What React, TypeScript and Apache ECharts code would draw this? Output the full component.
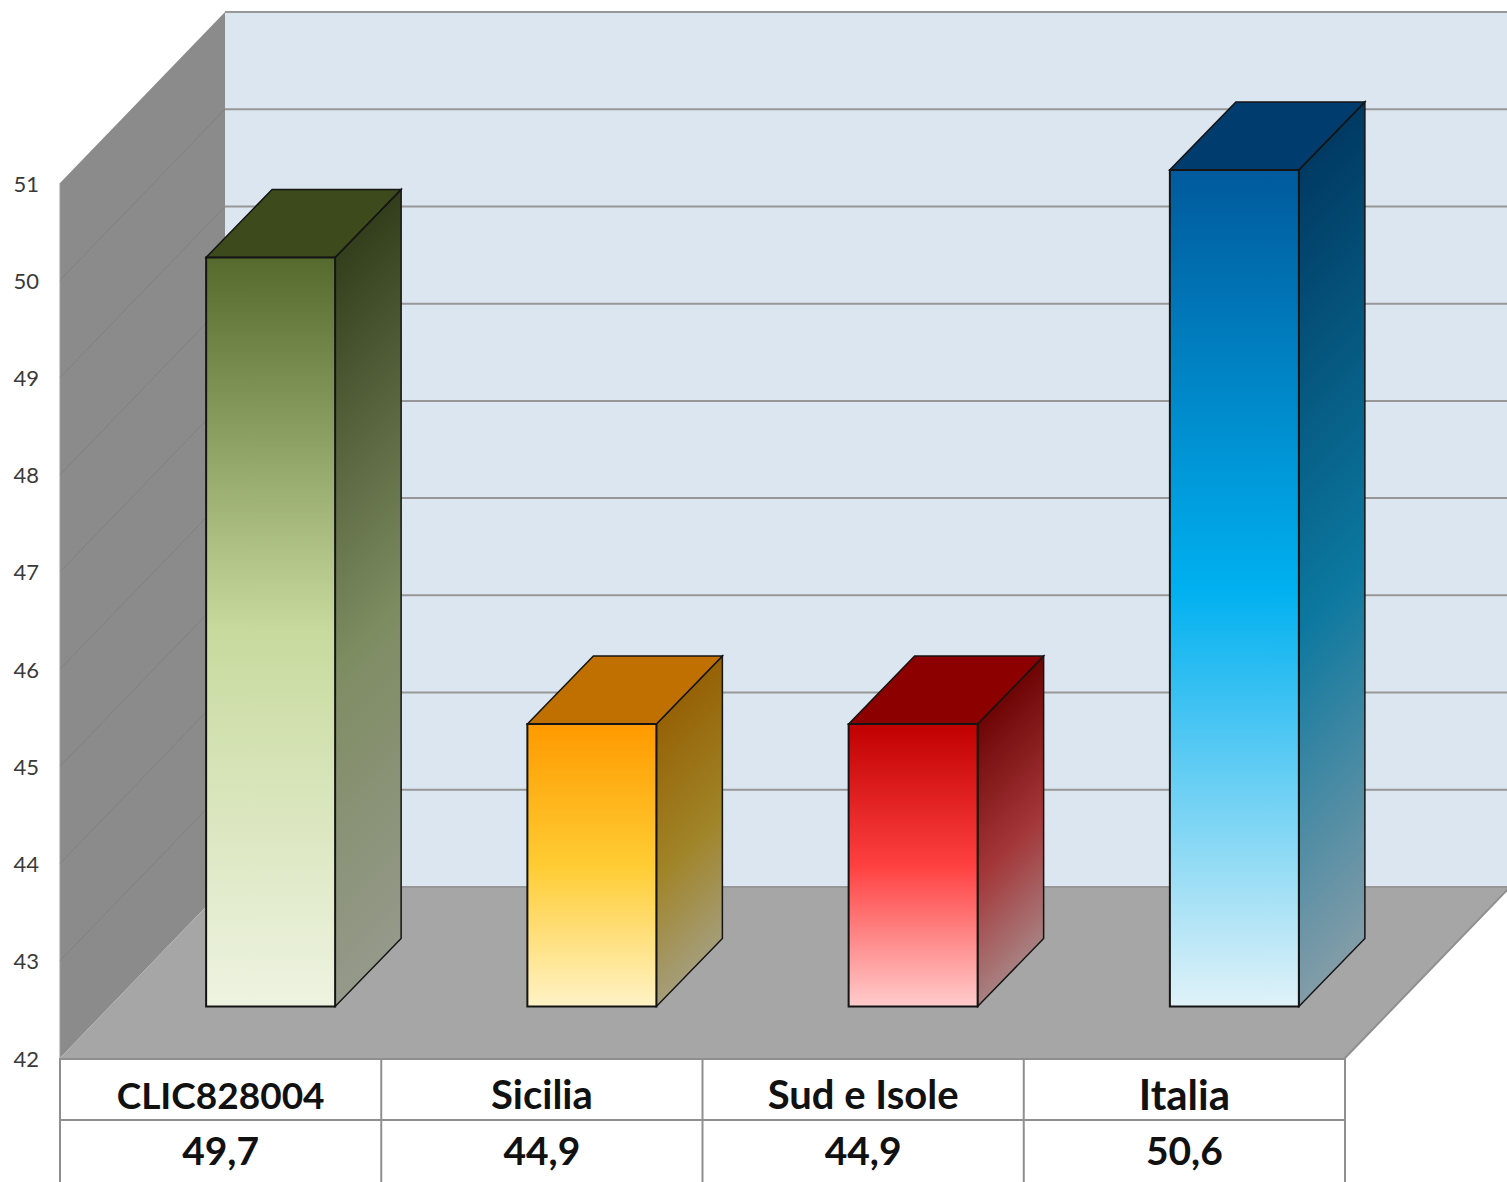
import React, { useEffect, useRef } from "react";
import * as echarts from "echarts";

const categories = ["CLIC828004", "Sicilia", "Sud e Isole", "Italia"];
const values = [49.7, 44.9, 44.9, 50.6];
const valueLabels = ["49,7", "44,9", "44,9", "50,6"];
const yTicks = [42, 43, 44, 45, 46, 47, 48, 49, 50, 51];

const frontColors = [
  ["#566a2e", "#c8da9e", "#eef3e1"],
  ["#ff9a00", "#ffcc33", "#fff3c6"],
  ["#c00000", "#ff4040", "#ffcccc"],
  ["#005a9c", "#00b0f0", "#e0f2f8"],
];
const sideColors = [
  ["#333f1c", "#7e8c62", "#95998a"],
  ["#966206", "#a08428", "#a59d78"],
  ["#6e0505", "#a33638", "#a87f80"],
  ["#003a63", "#0c789f", "#829ca8"],
];
const topColors = ["#3c4a1c", "#c07000", "#8c0000", "#003d6e"];
const categoryStyles = ["c", "d", "d", "e"];

const FONT = "Lato";
const WALL_DX = 165;
const WALL_DY = -171;
const BAR_DX = 66;
const BAR_DY = -68;
const BAR_SHIFT_X = 50;
const BAR_SHIFT_Y = -51.5;
const BAR_HALF = 64.5;
const GRID_LEFT = 60;
const GRID_TOP = 183;
const GRID_W = 1285;
const GRID_H = 875;
const TABLE_BOTTOM = 1182;
const TABLE_ROW = 1120;
const GRID_COLOR = "#979797";

function stops(c: string[], mid = 0.5) {
  return [
    { offset: 0, color: c[0] },
    { offset: mid, color: c[1] },
    { offset: 1, color: c[2] },
  ];
}

function renderBackdrop(_p: any, api: any) {
  const children: any[] = [];
  const y0 = api.coord([0, yTicks[0]])[1];
  const yT = api.coord([0, yTicks[yTicks.length - 1]])[1];
  const xL = GRID_LEFT;
  const xR = GRID_LEFT + GRID_W;
  const poly = (points: number[][], fill: any) => ({
    type: "polygon",
    shape: { points },
    style: { fill, stroke: "none" },
  });
  const line = (x1: number, y1: number, x2: number, y2: number, stroke: string, lineWidth: number) => ({
    type: "line",
    shape: { x1, y1, x2, y2 },
    style: { stroke, lineWidth },
  });
  children.push(
    poly(
      [
        [xL + WALL_DX, yT + WALL_DY],
        [xR + WALL_DX, yT + WALL_DY],
        [xR + WALL_DX, y0 + WALL_DY],
        [xL + WALL_DX, y0 + WALL_DY],
      ],
      "#dce6f1"
    )
  );
  children.push(
    poly(
      [
        [xL, y0],
        [xL, yT],
        [xL + WALL_DX, yT + WALL_DY],
        [xL + WALL_DX, y0 + WALL_DY],
      ],
      "#8b8b8b"
    )
  );
  yTicks.forEach((t) => {
    const y = api.coord([0, t])[1];
    if (t !== yTicks[0] && t !== yTicks[yTicks.length - 1]) {
      children.push(line(xL, y, xL + WALL_DX, y + WALL_DY, "#808080", 1));
    }
    children.push(line(xL + WALL_DX, y + WALL_DY, xR + WALL_DX, y + WALL_DY, GRID_COLOR, 2));
  });
  children.push(
    poly(
      [
        [xL, y0],
        [xL + WALL_DX, y0 + WALL_DY],
        [xR + WALL_DX, y0 + WALL_DY],
        [xR, y0],
      ],
      "#a6a6a6"
    )
  );
  children.push(line(xR, y0, xR + WALL_DX, y0 + WALL_DY, "#8f8f8f", 2));
  children.push(line(xL, yT, xL, y0, "#9a9a9a", 1));
  children.push(line(xL + WALL_DX, y0 + WALL_DY, xR + WALL_DX, y0 + WALL_DY, GRID_COLOR, 2));
  // data-table rules
  children.push(line(xL, y0 + 1, xR, y0 + 1, "#8f8f8f", 2));
  children.push(line(xL, TABLE_ROW, xR, TABLE_ROW, "#8f8f8f", 2));
  const cell = GRID_W / categories.length;
  for (let i = 0; i <= categories.length; i++) {
    children.push(line(xL + cell * i, y0, xL + cell * i, TABLE_BOTTOM, "#8f8f8f", 2));
  }
  return { type: "group", children };
}

function renderBar(_p: any, api: any) {
  const idx = api.value(0);
  const top = api.coord([idx, api.value(1)]);
  const base = api.coord([idx, yTicks[0]]);
  const cx = base[0] + BAR_SHIFT_X;
  const yB = base[1] + BAR_SHIFT_Y;
  const yTop = top[1] + BAR_SHIFT_Y - 0.5;
  const l = cx - BAR_HALF;
  const r = cx + BAR_HALF;
  const stroke = "#141414";
  const front = new echarts.graphic.LinearGradient(0, 0, 0, 1, stops(frontColors[idx]));
  const t = (BAR_DX + (yB + BAR_DY - yTop)) / 2;
  const side = new echarts.graphic.LinearGradient(r, yTop, r + t, yTop + t, stops(sideColors[idx], 0.55), true);
  return {
    type: "group",
    children: [
      {
        type: "polygon",
        shape: {
          points: [
            [r, yTop],
            [r + BAR_DX, yTop + BAR_DY],
            [r + BAR_DX, yB + BAR_DY],
            [r, yB],
          ],
        },
        style: { fill: side, stroke, lineWidth: 1.5 },
      },
      {
        type: "polygon",
        shape: {
          points: [
            [l, yTop],
            [l + BAR_DX, yTop + BAR_DY],
            [r + BAR_DX, yTop + BAR_DY],
            [r, yTop],
          ],
        },
        style: { fill: topColors[idx], stroke, lineWidth: 1.5 },
      },
      {
        type: "polygon",
        shape: {
          points: [
            [l, yTop],
            [r, yTop],
            [r, yB],
            [l, yB],
          ],
        },
        style: { fill: front, stroke, lineWidth: 2 },
      },
    ],
  };
}

export default function App() {
  const ref = useRef<HTMLDivElement>(null);
  useEffect(() => {
    document.body.style.margin = "0";
    const chart = echarts.init(ref.current!, undefined, { renderer: "svg" });
    const textStyle = { fontFamily: FONT, fontWeight: "bold", color: "#111111", lineHeight: 56 };
    chart.setOption({
      animation: false,
      backgroundColor: "#ffffff",
      grid: { left: GRID_LEFT, top: GRID_TOP, width: GRID_W, height: GRID_H, containLabel: false },
      xAxis: {
        type: "category",
        data: categories,
        axisLine: { show: false },
        axisTick: { show: false },
        splitLine: { show: false },
        axisLabel: {
          margin: 8,
          interval: 0,
          formatter: (name: string) => {
            const i = categories.indexOf(name);
            return `{${categoryStyles[i]}|${name}}\n{v|${valueLabels[i]}}`;
          },
          rich: {
            c: { ...textStyle, fontSize: 37 },
            d: { ...textStyle, fontSize: 40 },
            e: { ...textStyle, fontSize: 42 },
            v: { ...textStyle, fontSize: 39 },
          },
        },
      },
      yAxis: {
        type: "value",
        min: 42,
        max: 51,
        interval: 1,
        axisLine: { show: false },
        axisTick: { show: false },
        splitLine: { show: false },
        axisLabel: { margin: 21, fontFamily: FONT, fontSize: 22, color: "#3a3a3a" },
      },
      series: [
        {
          type: "custom",
          z: 1,
          silent: true,
          clip: false,
          renderItem: renderBackdrop,
          data: [[0, yTicks[0]]],
          encode: { x: 0, y: 1 },
        },
        {
          type: "custom",
          z: 2,
          silent: true,
          clip: false,
          renderItem: renderBar,
          data: values.map((v, i) => [i, v]),
          encode: { x: 0, y: 1 },
        },
      ],
    });
    return () => chart.dispose();
  }, []);
  return <div ref={ref} style={{ position: "absolute", left: 0, top: 0, width: 1507, height: 1182 }} />;
}
